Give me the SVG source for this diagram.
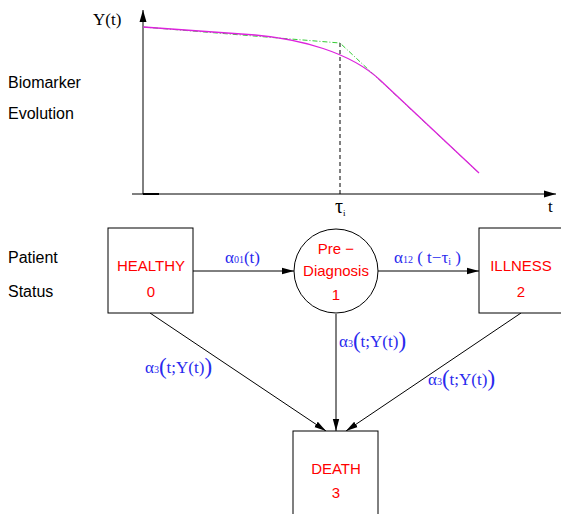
<svg xmlns="http://www.w3.org/2000/svg" width="561" height="514" viewBox="0 0 561 514">
<style>
.lab{font-family:"Liberation Sans",Arial,sans-serif;font-size:16px;fill:#000}
.red{font-family:"Liberation Sans",Arial,sans-serif;font-size:15px;fill:#ff0000;text-anchor:middle}
.blue{font-family:"Liberation Serif","Times New Roman",serif;font-size:17px;fill:#2a2aee}
.sub{font-size:10px}
.big{font-size:23px}
.ser{font-family:"Liberation Serif","Times New Roman",serif;font-size:17px;fill:#000}
.node{fill:#fff;stroke:#000;stroke-width:1}
.edge{stroke:#000;stroke-width:1;fill:none;marker-end:url(#ah)}
</style>
<defs>
<marker id="ah" markerWidth="12" markerHeight="8" refX="12" refY="4" orient="auto" markerUnits="userSpaceOnUse">
<path d="M0,0.8 L12,4 L0,7.2 Z" fill="#000"/>
</marker>
<marker id="ax" markerWidth="12" markerHeight="8" refX="12" refY="4" orient="auto" markerUnits="userSpaceOnUse">
<path d="M0,0.5 L12,4 L0,7.5 Z" fill="#000"/>
</marker>
</defs>
<rect width="561" height="514" fill="#fff"/>
<g id="plot">
<line x1="143" y1="194" x2="143" y2="10" stroke="#000" stroke-width="1" marker-end="url(#ax)"/>
<line x1="132" y1="194" x2="556" y2="194" stroke="#000" stroke-width="1" marker-end="url(#ax)"/>
<line x1="143" y1="194" x2="159" y2="194" stroke="#000" stroke-width="2"/>
<line x1="340" y1="43" x2="340" y2="194" stroke="#000" stroke-width="1" stroke-dasharray="4,3"/>
<path d="M143,27 L340,43 L479,173" fill="none" stroke="#33cc33" stroke-width="1" stroke-dasharray="5,2,1,2"/>
<path d="M143,27 L255,35 C300,39 350,52 380,80 L479,173" fill="none" stroke="#dd22dd" stroke-width="1.3"/>
<text class="ser" x="93" y="25">Y(t)</text>
<text class="ser" x="548" y="212">t</text>
<text class="ser" x="335" y="213" style="font-size:20px">τ<tspan style="font-size:9px" dy="3">i</tspan></text>
<text class="lab" x="8" y="88">Biomarker</text>
<text class="lab" x="8" y="119">Evolution</text>
<text class="lab" x="8" y="263">Patient</text>
<text class="lab" x="8" y="297">Status</text>
</g>
<g id="connectors">
<line class="edge" x1="193" y1="271" x2="294" y2="271"/>
<line class="edge" x1="378" y1="271" x2="479" y2="271"/>
<line class="edge" x1="150" y1="313" x2="326" y2="431"/>
<line class="edge" x1="336" y1="314" x2="336" y2="431"/>
<line class="edge" x1="521" y1="313" x2="346" y2="431"/>
<text class="blue" x="225" y="263">α<tspan class="sub">01</tspan><tspan>(t)</tspan></text>
<text class="blue" x="394" y="263">α<tspan class="sub">12</tspan> ( t−τ<tspan class="sub" dy="2">i</tspan><tspan dy="-2"> )</tspan></text>
<text class="blue" x="145" y="373">α<tspan class="sub">3</tspan><tspan class="big" dy="1">(</tspan><tspan dy="-1">t;Y(t)</tspan><tspan class="big" dy="1">)</tspan></text>
<text class="blue" x="339" y="347">α<tspan class="sub">3</tspan><tspan class="big" dy="1">(</tspan><tspan dy="-1">t;Y(t)</tspan><tspan class="big" dy="1">)</tspan></text>
<text class="blue" x="428" y="385">α<tspan class="sub">3</tspan><tspan class="big" dy="1">(</tspan><tspan dy="-1">t;Y(t)</tspan><tspan class="big" dy="1">)</tspan></text>
</g>
<g id="healthy">
<rect class="node" x="108" y="228" width="85" height="85"/>
<text class="red" x="151" y="271">HEALTHY</text>
<text class="red" x="151" y="297">0</text>
</g>
<g id="prediagnosis">
<circle class="node" cx="336" cy="271" r="42"/>
<text class="red" x="336" y="254">Pre −</text>
<text class="red" x="336" y="276">Diagnosis</text>
<text class="red" x="336" y="300">1</text>
</g>
<g id="illness">
<rect class="node" x="479" y="228" width="85" height="85"/>
<text class="red" x="521" y="271">ILLNESS</text>
<text class="red" x="521" y="297">2</text>
</g>
<g id="death">
<rect class="node" x="293" y="431" width="85" height="90"/>
<text class="red" x="336" y="474">DEATH</text>
<text class="red" x="336" y="498">3</text>
</g>
</svg>
